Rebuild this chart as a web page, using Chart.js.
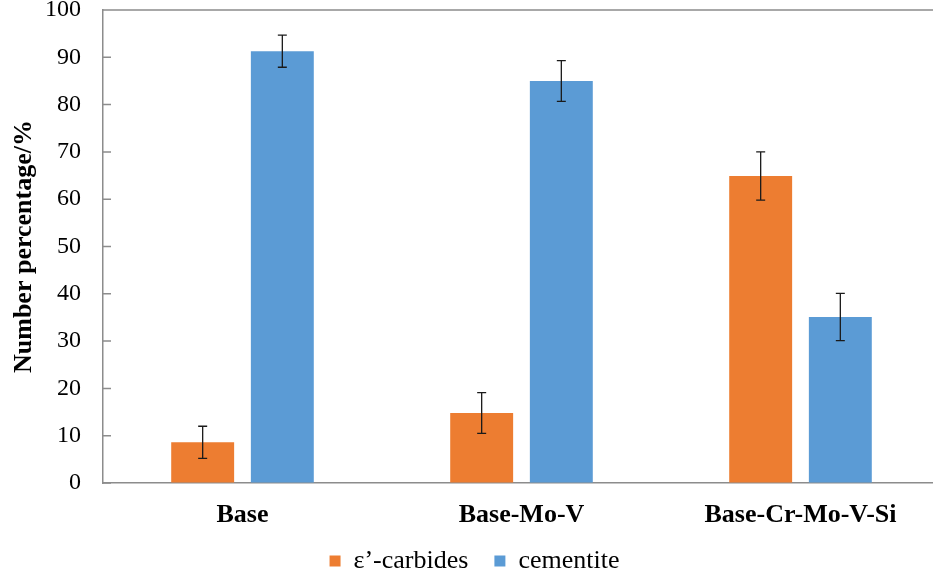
<!DOCTYPE html>
<html>
<head>
<meta charset="utf-8">
<script src="https://cdn.jsdelivr.net/npm/chart.js@4.4.0/dist/chart.umd.min.js"></script>
<style>
  html, body { margin: 0; padding: 0; background: #fff; overflow: hidden; }
  #wrap { width: 940px; height: 578px; }
</style>
</head>
<body>
<div id="wrap"><canvas id="myChart"></canvas></div>
<script>
const categories = ["Base", "Base-Mo-V", "Base-Cr-Mo-V-Si"];
const carbides = [8.6, 14.8, 64.9];
const carbidesErr = [3.4, 4.3, 5.1];
const cementite = [91.3, 85.0, 35.1];
const cementiteErr = [3.4, 4.3, 5.0];
const yTicks = [0, 10, 20, 30, 40, 50, 60, 70, 80, 90, 100];

const serif = "'Liberation Serif', 'Times New Roman', serif";
const axisGrey = "#8c8c8c";

// error bars drawn through the y scale
const errorBars = {
  id: "errorBars",
  afterDatasetsDraw(chart) {
    const ctx = chart.ctx;
    const y = chart.scales.y;
    chart.data.datasets.forEach((ds, i) => {
      const meta = chart.getDatasetMeta(i);
      meta.data.forEach((bar, j) => {
        const v = ds.data[j], e = ds.errors[j];
        const top = y.getPixelForValue(v + e);
        const bot = y.getPixelForValue(v - e);
        ctx.save();
        ctx.strokeStyle = "#1a1a1a";
        ctx.lineWidth = 1.3;
        ctx.beginPath();
        ctx.moveTo(bar.x, top); ctx.lineTo(bar.x, bot);
        ctx.moveTo(bar.x - 4.5, top); ctx.lineTo(bar.x + 4.5, top);
        ctx.moveTo(bar.x - 4.5, bot); ctx.lineTo(bar.x + 4.5, bot);
        ctx.stroke();
        ctx.restore();
      });
    });
  }
};

// top edge of the plot area + inward y ticks
const frame = {
  id: "frame",
  afterLayout(chart) {
    // nudge legend a bit lower
    if (chart.legend) { chart.legend.top += 6; chart.legend.bottom += 6; }
  },
  afterDraw(chart) {
    const { ctx, chartArea } = chart;
    const y = chart.scales.y;
    ctx.save();
    ctx.strokeStyle = axisGrey;
    ctx.lineWidth = 1.5;
    ctx.beginPath();
    ctx.moveTo(chartArea.left, chartArea.top);
    ctx.lineTo(chartArea.right, chartArea.top);
    yTicks.forEach(v => {
      const py = y.getPixelForValue(v);
      ctx.moveTo(chartArea.left, py);
      ctx.lineTo(chartArea.left + 8, py);
    });
    ctx.stroke();
    ctx.restore();
  }
};

const chart = new Chart(document.getElementById("myChart"), {
  type: "bar",
  data: {
    labels: categories,
    datasets: [
      { label: "ε’-carbides", data: carbides, errors: carbidesErr, backgroundColor: "#ED7D31" },
      { label: "cementite", data: cementite, errors: cementiteErr, backgroundColor: "#5B9BD5" }
    ]
  },
  options: {
    responsive: true,
    maintainAspectRatio: false,
    animation: false,
    categoryPercentage: 0.571,
    barPercentage: 0.79,
    layout: { padding: { top: 10, left: 9, right: 0, bottom: 0 } },
    plugins: {
      tooltip: { enabled: false },
      legend: {
        position: "bottom",
        labels: {
          font: { family: serif, size: 26 },
          color: "#000",
          boxWidth: 11,
          boxHeight: 11,
          padding: 0,
          generateLabels(c) {
            const items = Chart.defaults.plugins.legend.labels.generateLabels(c);
            // wider gap after the first entry
            items[0].text = items[0].text + "\u2003";
            return items;
          }
        }
      }
    },
    scales: {
      x: {
        grid: { display: true, drawOnChartArea: false, drawTicks: false },
        border: { display: true, color: axisGrey, width: 1.5 },
        ticks: { color: "#000", padding: 17, font: { family: serif, size: 26, weight: "bold" } },
        afterFit(scale) { scale.height = 59; }
      },
      y: {
        min: 0,
        max: 100,
        afterBuildTicks(scale) { scale.ticks = yTicks.map(v => ({ value: v })); },
        grid: { display: true, drawOnChartArea: false, drawTicks: false },
        border: { display: true, color: axisGrey, width: 1.5 },
        ticks: { color: "#000", padding: 22, font: { family: serif, size: 24 } },
        title: {
          display: true,
          text: "Number percentage/%",
          color: "#000",
          font: { family: serif, size: 26, weight: "bold" },
          padding: { top: 0, bottom: 2 }
        },
        afterFit(scale) {
          scale.width = 94;
          scale.paddingTop = 0;
          scale.paddingBottom = 0;
        }
      }
    }
  },
  plugins: [errorBars, frame]
});
</script>
</body>
</html>
